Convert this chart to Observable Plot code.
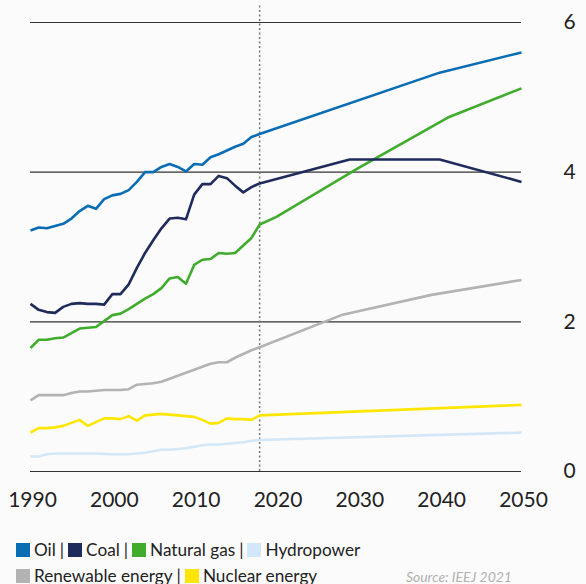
<!DOCTYPE html>
<html>
<head>
<meta charset="utf-8">
<script src="https://cdn.jsdelivr.net/npm/d3@7"></script>
<script src="https://cdn.jsdelivr.net/npm/@observablehq/plot@0.6"></script>
<style>
  html, body { margin: 0; padding: 0; background: #fbfbfc; }
  body { width: 586px; height: 584px; overflow: hidden; font-family: Lato, "Open Sans", sans-serif; }
  #legend { position: relative; height: 59px; font-size: 17.2px; color: #222; }
  .row { position: absolute; left: 16px; white-space: nowrap; display: flex; align-items: center; }
  .sw { display: inline-block; width: 14px; height: 14px; margin-right: 4px; }
  .sep { margin: 0 4px; }
  #source { position: absolute; right: 74px; font-style: italic; color: #b0b0b0; font-size: 14px; }
</style>
</head>
<body>
<div id="chart"></div>
<div id="legend"></div>
<script>
const yearsHist = [1990,1991,1992,1993,1994,1995,1996,1997,1998,1999,2000,2001,2002,2003,2004,2005,2006,2007,2008,2009,2010,2011,2012,2013,2014,2015,2016,2017,2018];

const seriesNames = ["Oil", "Coal", "Natural gas", "Hydropower", "Renewable energy", "Nuclear energy"];
const seriesColors = ["#0a6db4", "#1f2b5b", "#40ac2c", "#d2e7f8", "#b3b3b3", "#ffe600"];

const oilHist = [3.22,3.26,3.25,3.28,3.31,3.38,3.48,3.55,3.51,3.64,3.69,3.71,3.76,3.87,4.00,4.00,4.07,4.11,4.07,4.01,4.11,4.10,4.20,4.24,4.29,4.34,4.38,4.47,4.51];
const coalHist = [2.24,2.16,2.13,2.12,2.20,2.24,2.25,2.24,2.24,2.23,2.37,2.37,2.50,2.72,2.92,3.09,3.25,3.38,3.39,3.37,3.70,3.84,3.84,3.95,3.92,3.82,3.73,3.80,3.85];
const gasHist = [1.65,1.76,1.76,1.78,1.79,1.85,1.91,1.92,1.93,2.01,2.09,2.11,2.17,2.24,2.31,2.37,2.45,2.58,2.60,2.51,2.76,2.83,2.84,2.92,2.91,2.92,3.02,3.12,3.30];
const hydroHist = [0.20,0.20,0.23,0.24,0.24,0.24,0.24,0.24,0.24,0.235,0.23,0.23,0.23,0.24,0.25,0.27,0.29,0.29,0.30,0.31,0.33,0.35,0.36,0.36,0.37,0.38,0.39,0.41,0.42];
const renewHist = [0.95,1.02,1.02,1.02,1.02,1.05,1.07,1.07,1.08,1.09,1.09,1.09,1.10,1.16,1.17,1.18,1.20,1.24,1.28,1.32,1.36,1.40,1.44,1.46,1.46,1.52,1.57,1.62,1.66];
const nuclearHist = [0.52,0.58,0.58,0.59,0.61,0.65,0.69,0.61,0.66,0.71,0.71,0.70,0.74,0.68,0.75,0.76,0.77,0.76,0.75,0.74,0.73,0.69,0.64,0.65,0.71,0.70,0.70,0.69,0.75];

const oilProjYears = [2040, 2050];           const oilProj = [5.33, 5.60];
const coalProjYears = [2029, 2040, 2050];    const coalProj = [4.17, 4.17, 3.87];
const gasProjYears = [2020, 2030, 2041, 2050]; const gasProj = [3.40, 4.05, 4.73, 5.12];
const hydroProjYears = [2050];               const hydroProj = [0.52];
const renewProjYears = [2028, 2039, 2050];   const renewProj = [2.09, 2.36, 2.56];
const nuclearProjYears = [2050];             const nuclearProj = [0.89];

const yTicks = [0, 2, 4, 6];
const xTicks = [1990, 2000, 2010, 2020, 2030, 2040, 2050];
const baseYear = 2018;

const hist = [oilHist, coalHist, gasHist, hydroHist, renewHist, nuclearHist];
const projY = [oilProjYears, coalProjYears, gasProjYears, hydroProjYears, renewProjYears, nuclearProjYears];
const projV = [oilProj, coalProj, gasProj, hydroProj, renewProj, nuclearProj];

const data = [];
seriesNames.forEach((name, i) => {
  yearsHist.forEach((yr, j) => data.push({series: name, year: yr, value: hist[i][j]}));
  projY[i].forEach((yr, j) => data.push({series: name, year: yr, value: projV[i][j]}));
});

const drawOrder = ["Hydropower", "Nuclear energy", "Renewable energy", "Natural gas", "Coal", "Oil"];

const chart = Plot.plot({
  width: 586,
  height: 525,
  marginLeft: 30,
  marginRight: 65,
  marginTop: 22,
  marginBottom: 54,
  style: { background: "transparent", fontFamily: "Lato, sans-serif" },
  x: { domain: [1990, 2050], label: null },
  y: { domain: [0, 6], label: null },
  color: { domain: seriesNames, range: seriesColors },
  marks: [
    Plot.ruleY(yTicks, { stroke: "#333", strokeWidth: 1.2 }),
    Plot.ruleX([baseYear], { y1: 0, y2: 6.24, stroke: "#777", strokeWidth: 1.5, strokeDasharray: "2,2.5" }),
    ...drawOrder.map(s => Plot.line(data.filter(d => d.series === s), {
      x: "year", y: "value", stroke: "series", strokeWidth: 2.6, strokeLinejoin: "round", strokeLinecap: "butt"
    })),
    Plot.axisX(xTicks, { tickSize: 0, tickPadding: 21, tickFormat: d => String(d), fontSize: 21, fill: "#222", dx: 2, label: null }),
    Plot.axisY(yTicks, { anchor: "right", tickSize: 0, tickPadding: 42, fontSize: 21, fill: "#222", textAnchor: "start", tickFormat: d => String(d), label: null })
  ]
});
document.getElementById("chart").appendChild(chart);

const legend = document.getElementById("legend");
const rows = [seriesNames.slice(0, 4), seriesNames.slice(4)];
rows.forEach((names, r) => {
  const row = document.createElement("div");
  row.className = "row";
  row.style.top = (r === 0 ? 14 : 40) + "px";
  names.forEach((n, k) => {
    const sw = document.createElement("span");
    sw.className = "sw";
    sw.style.background = seriesColors[seriesNames.indexOf(n)];
    row.appendChild(sw);
    const t = document.createElement("span");
    t.textContent = n;
    row.appendChild(t);
    if (k < names.length - 1) {
      const s = document.createElement("span");
      s.className = "sep";
      s.textContent = "|";
      row.appendChild(s);
    }
  });
  legend.appendChild(row);
});
const src = document.createElement("div");
src.id = "source";
src.textContent = "Source: IEEJ 2021";
src.style.top = "43px";
legend.appendChild(src);
</script>
</body>
</html>
